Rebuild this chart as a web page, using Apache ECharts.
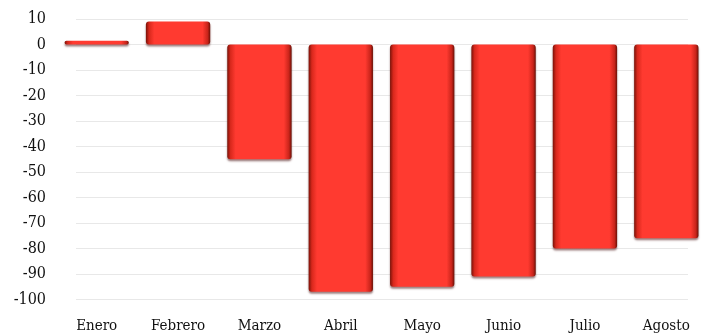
<!DOCTYPE html>
<html><head><meta charset="utf-8">
<script src="https://cdn.jsdelivr.net/npm/echarts@6/dist/echarts.min.js"></script>
<style>html,body{margin:0;padding:0;background:#fff}#c{width:707px;height:334px}</style>
</head><body><div id="c"></div>
<script>
const categories = ['Enero','Febrero','Marzo','Abril','Mayo','Junio','Julio','Agosto'];
const values = [1.5, 9, -45, -97, -95, -91, -80, -76];
const yMin = -100, yMax = 10, yStep = 10;

const font = "'DejaVu Serif Condensed','DejaVu Serif',serif";
const chart = echarts.init(document.getElementById('c'));
const barColor = new echarts.graphic.LinearGradient(0,0,1,0,[
  {offset:0, color:'#7a1208'},
  {offset:0.05, color:'#d8281c'},
  {offset:0.13, color:'#ff3a30'},
  {offset:0.88, color:'#ff3a30'},
  {offset:0.96, color:'#c8241a'},
  {offset:1, color:'#6a1006'}
]);
chart.setOption({
  animation:false,
  backgroundColor:'#fff',
  grid:[
    {left:56, right:0, top:19, bottom:34.5, containLabel:false},
    {left:76, right:19, top:19, bottom:34.5, containLabel:false}
  ],
  xAxis:[
    {type:'category', data:categories, gridIndex:0,
     axisLine:{show:false}, axisTick:{show:false}, splitLine:{show:false},
     axisLabel:{color:'#111', fontFamily:font, fontSize:15, margin:19}},
    {type:'category', data:categories, gridIndex:1, show:false}
  ],
  yAxis:[
    {type:'value', gridIndex:0, min:yMin, max:yMax, interval:yStep,
     axisLine:{show:false}, axisTick:{show:false}, splitLine:{show:false},
     axisLabel:{color:'#111', fontFamily:font, fontSize:16, margin:10}},
    {type:'value', gridIndex:1, min:yMin, max:yMax, interval:yStep,
     axisLine:{show:false}, axisTick:{show:false}, axisLabel:{show:false},
     splitLine:{show:true, lineStyle:{color:'#e8e8e8', width:1}}}
  ],
  series:[{
    type:'bar', xAxisIndex:0, yAxisIndex:0, data:values,
    barWidth:'79%',
    itemStyle:{color:barColor, borderRadius:3,
      shadowColor:'rgba(60,0,0,0.5)', shadowBlur:2, shadowOffsetY:2}
  }]
});
</script></body></html>
